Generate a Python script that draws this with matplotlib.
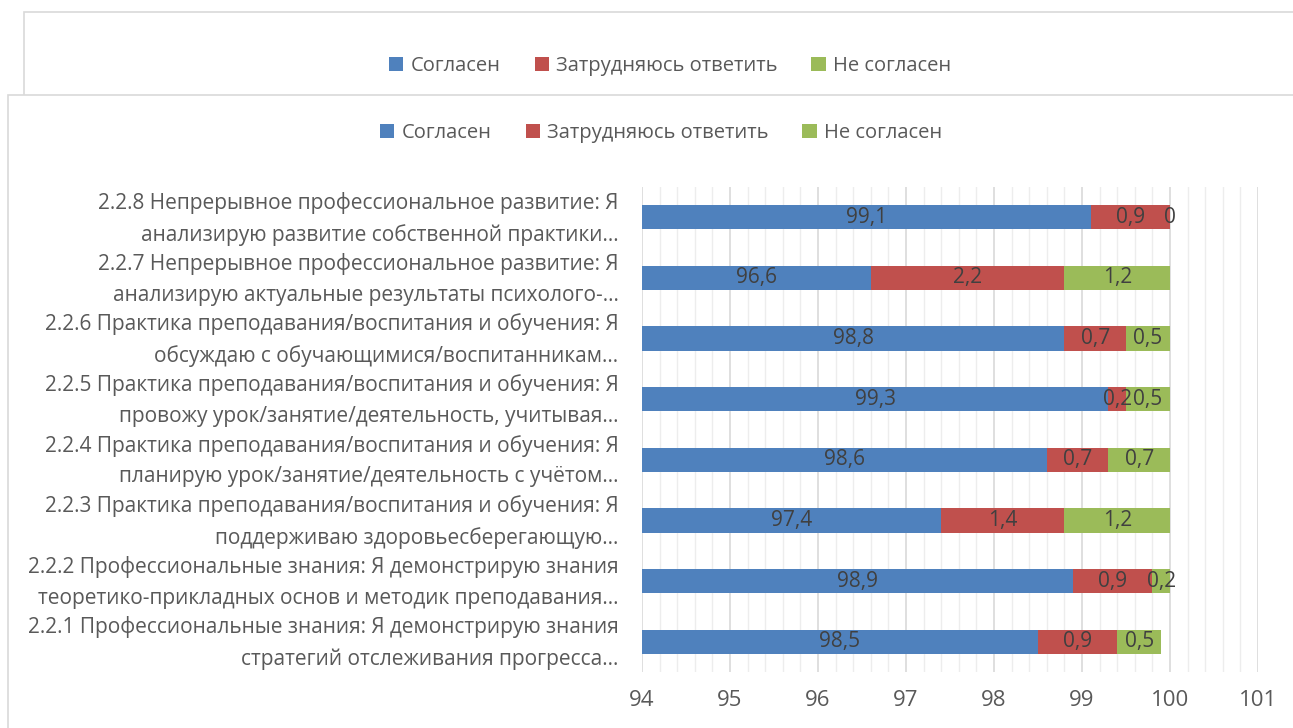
import numpy as np
import matplotlib
matplotlib.use('Agg')
import matplotlib.pyplot as plt
from matplotlib.patches import Rectangle, Patch

plt.rcParams['font.family'] = ['Open Sans', 'DejaVu Sans']

# категории снизу вверх (как в Excel)
categories = [
    '2.2.1 Профессиональные знания: Я демонстрирую знания\nстратегий отслеживания прогресса…',
    '2.2.2 Профессиональные знания: Я демонстрирую знания\nтеоретико-прикладных основ и методик преподавания…',
    '2.2.3 Практика преподавания/воспитания и обучения: Я\nподдерживаю здоровьесберегающую…',
    '2.2.4 Практика преподавания/воспитания и обучения: Я\nпланирую урок/занятие/деятельность с учётом…',
    '2.2.5 Практика преподавания/воспитания и обучения: Я\nпровожу урок/занятие/деятельность, учитывая…',
    '2.2.6 Практика преподавания/воспитания и обучения: Я\nобсуждаю с обучающимися/воспитанникам…',
    '2.2.7 Непрерывное профессиональное развитие: Я\nанализирую актуальные результаты психолого-…',
    '2.2.8 Непрерывное профессиональное развитие: Я\nанализирую развитие собственной практики…',
]
agree = [98.5, 98.9, 97.4, 98.6, 99.3, 98.8, 96.6, 99.1]
hard = [0.9, 0.9, 1.4, 0.7, 0.2, 0.7, 2.2, 0.9]
disagree = [0.5, 0.2, 1.2, 0.7, 0.5, 0.5, 1.2, 0]

series_names = ['Согласен', 'Затрудняюсь ответить', 'Не согласен']
colors = ['#4F81BD', '#C0504D', '#9BBB59']

xmin, xmax = 94, 101

fig = plt.figure(figsize=(12.93, 7.28), dpi=100)

# рамки двух наложенных диаграмм (как на скриншоте)
fig.patches.append(Rectangle((24 / 1293, -0.1), 1.1, 1 - 12 / 728 + 0.1,
                             transform=fig.transFigure, facecolor='white',
                             edgecolor='#D9D9D9', linewidth=1.2, zorder=0))
fig.patches.append(Rectangle((8 / 1293, -0.1), 1.1, 1 - 95 / 728 + 0.1,
                             transform=fig.transFigure, facecolor='white',
                             edgecolor='#D9D9D9', linewidth=1.2, zorder=1))

ax = fig.add_axes([642 / 1293, 1 - 672 / 728, (1258 - 642) / 1293, (672 - 187) / 728])
ax.set_zorder(2)
ax.patch.set_alpha(0)

y = np.arange(len(categories))
h = 0.4
lefts = np.zeros(len(categories))
for vals, col in zip([agree, hard, disagree], colors):
    vals = np.array(vals, dtype=float)
    ax.barh(y, vals, left=lefts, height=h, color=col, zorder=3)
    for yi, l, v in zip(y, lefts, vals):
        a = max(l, xmin)
        xc = (a + l + v) / 2
        ax.text(xc, yi, f'{v:g}'.replace('.', ','), ha='center', va='center',
                fontsize=15, color='#404040', zorder=4)
    lefts = lefts + vals

ax.set_xlim(xmin, xmax)
ax.set_ylim(-0.5, len(categories) - 0.5)
ax.set_xticks(np.arange(xmin, xmax + 1))
ax.set_xticks(np.arange(xmin, xmax + 0.01, 0.2), minor=True)
ax.grid(axis='x', which='major', color='#D9D9D9', linewidth=1.2, zorder=0)
ax.grid(axis='x', which='minor', color='#EDEDED', linewidth=1.0, zorder=0)
ax.set_axisbelow(True)
ax.set_yticks(y)
ax.set_yticklabels([])
# подписи категорий (двухстрочные, выровнены вправо)
for yi, cat in zip(y, categories):
    ax.annotate(cat, xy=(0, yi), xycoords=('axes fraction', 'data'),
                xytext=(-17, -1), textcoords='offset points', ha='right',
                va='center', multialignment='right', fontsize=15,
                color='#595959', linespacing=1.6, annotation_clip=False)
ax.tick_params(axis='y', length=0)
ax.tick_params(axis='x', which='both', length=0, pad=13, labelsize=16,
               labelcolor='#595959')
for s in ax.spines.values():
    s.set_visible(False)

handles = [Patch(facecolor=c, edgecolor='none') for c in colors]
for yc, xc in [(1 - 66 / 728, 670 / 1293), (1 - 133 / 728, 661 / 1293)]:
    leg = fig.legend(handles, series_names, loc='center', bbox_to_anchor=(xc, yc),
                     ncol=3, frameon=False, fontsize=14.5, handlelength=0.7,
                     handleheight=0.7, handletextpad=0.35, columnspacing=1.7,
                     labelcolor='#595959')
    leg.set_zorder(5)

fig.savefig('out.png', dpi=100)
